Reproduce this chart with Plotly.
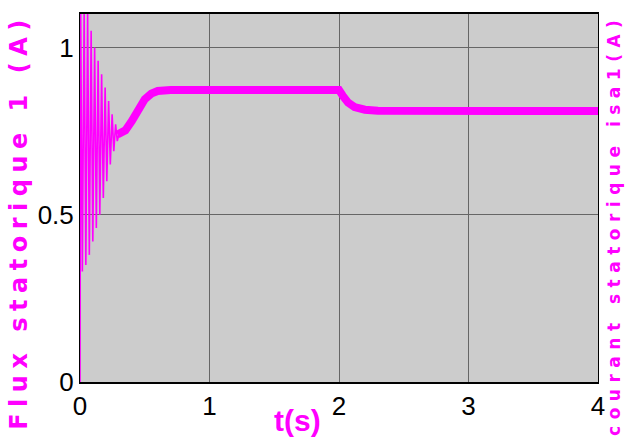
import plotly.graph_objects as go

# Transient (damped oscillation) peaks/troughs
t_osc = [0.0, 0.0, 0.005, 0.018, 0.032, 0.045, 0.059, 0.072, 0.086, 0.099, 0.113,
         0.126, 0.140, 0.153, 0.167, 0.180, 0.194, 0.207, 0.221, 0.234, 0.248,
         0.261, 0.275, 0.288, 0.30]
flux_osc = [0.0, 0.75, 1.12, 0.33, 1.12, 0.35, 1.10, 0.38, 1.05, 0.42, 1.00,
            0.46, 0.96, 0.50, 0.92, 0.55, 0.88, 0.60, 0.84, 0.65, 0.80,
            0.69, 0.77, 0.72, 0.74]

# Steady part (thick noisy band)
t_band = [0.29, 0.30, 0.35, 0.40, 0.45, 0.50, 0.55, 0.60, 0.70, 1.0, 1.5, 2.0,
          2.03, 2.07, 2.12, 2.2, 2.3, 2.5, 3.0, 3.5, 4.0]
flux_band = [0.74, 0.742, 0.752, 0.78, 0.815, 0.845, 0.862, 0.870, 0.873, 0.873,
             0.873, 0.873, 0.855, 0.835, 0.822, 0.814, 0.811, 0.810, 0.810, 0.810, 0.810]

x_ticks = [0, 1, 2, 3, 4]
x_labels = ["0", "1", "2", "3", "4"]
y_ticks = [0, 0.5, 1]
y_labels = ["0", "0.5", "1"]

MAG = "#ff00ff"
fig = go.Figure()
fig.add_trace(go.Scatter(x=t_osc, y=flux_osc, mode="lines",
                         line=dict(color=MAG, width=1.6), showlegend=False))
fig.add_trace(go.Scatter(x=t_band, y=flux_band, mode="lines",
                         line=dict(color=MAG, width=8), showlegend=False))

tick_font = dict(family="Liberation Sans Narrow, Arial Narrow, Liberation Sans", size=26, color="black")
fig.update_layout(
    width=625, height=446,
    margin=dict(l=80, r=27, t=14, b=64),
    paper_bgcolor="white", plot_bgcolor="#cccccc",
    xaxis=dict(range=[0, 4], tickvals=x_ticks, ticktext=x_labels,
               showgrid=True, gridcolor="#666666", gridwidth=1,
               zeroline=False, showline=True, linecolor="black", linewidth=2,
               mirror=True, ticks="", tickfont=tick_font),
    yaxis=dict(range=[0, 1.1], tickvals=y_ticks, ticktext=y_labels,
               showgrid=True, gridcolor="#666666", gridwidth=1,
               zeroline=False, showline=True, linecolor="black", linewidth=1,
               mirror=True, ticks="", tickfont=tick_font),
)

fig.add_annotation(text="<b>t(s)</b>", xref="paper", yref="paper", x=0.42, y=-0.055,
                   xanchor="center", yanchor="top", showarrow=False,
                   font=dict(family="Liberation Sans Narrow, Liberation Sans", size=30, color=MAG))
fig.add_annotation(text='<b><span style="letter-spacing:6.5px">Flux statorique 1 (A)</span></b>',
                   xref="paper", yref="paper", x=-0.118, y=0.435, textangle=-90,
                   xanchor="center", yanchor="middle", showarrow=False,
                   font=dict(family="DejaVu Sans", size=24, color=MAG))
fig.add_annotation(text='<b><span style="letter-spacing:6.5px">courant statorique isa1(A)</span></b>',
                   xref="paper", yref="paper", x=1.031, y=0.427, textangle=-90,
                   xanchor="center", yanchor="middle", showarrow=False,
                   font=dict(family="DejaVu Sans", size=17, color=MAG))

fig.write_html("out.html")
